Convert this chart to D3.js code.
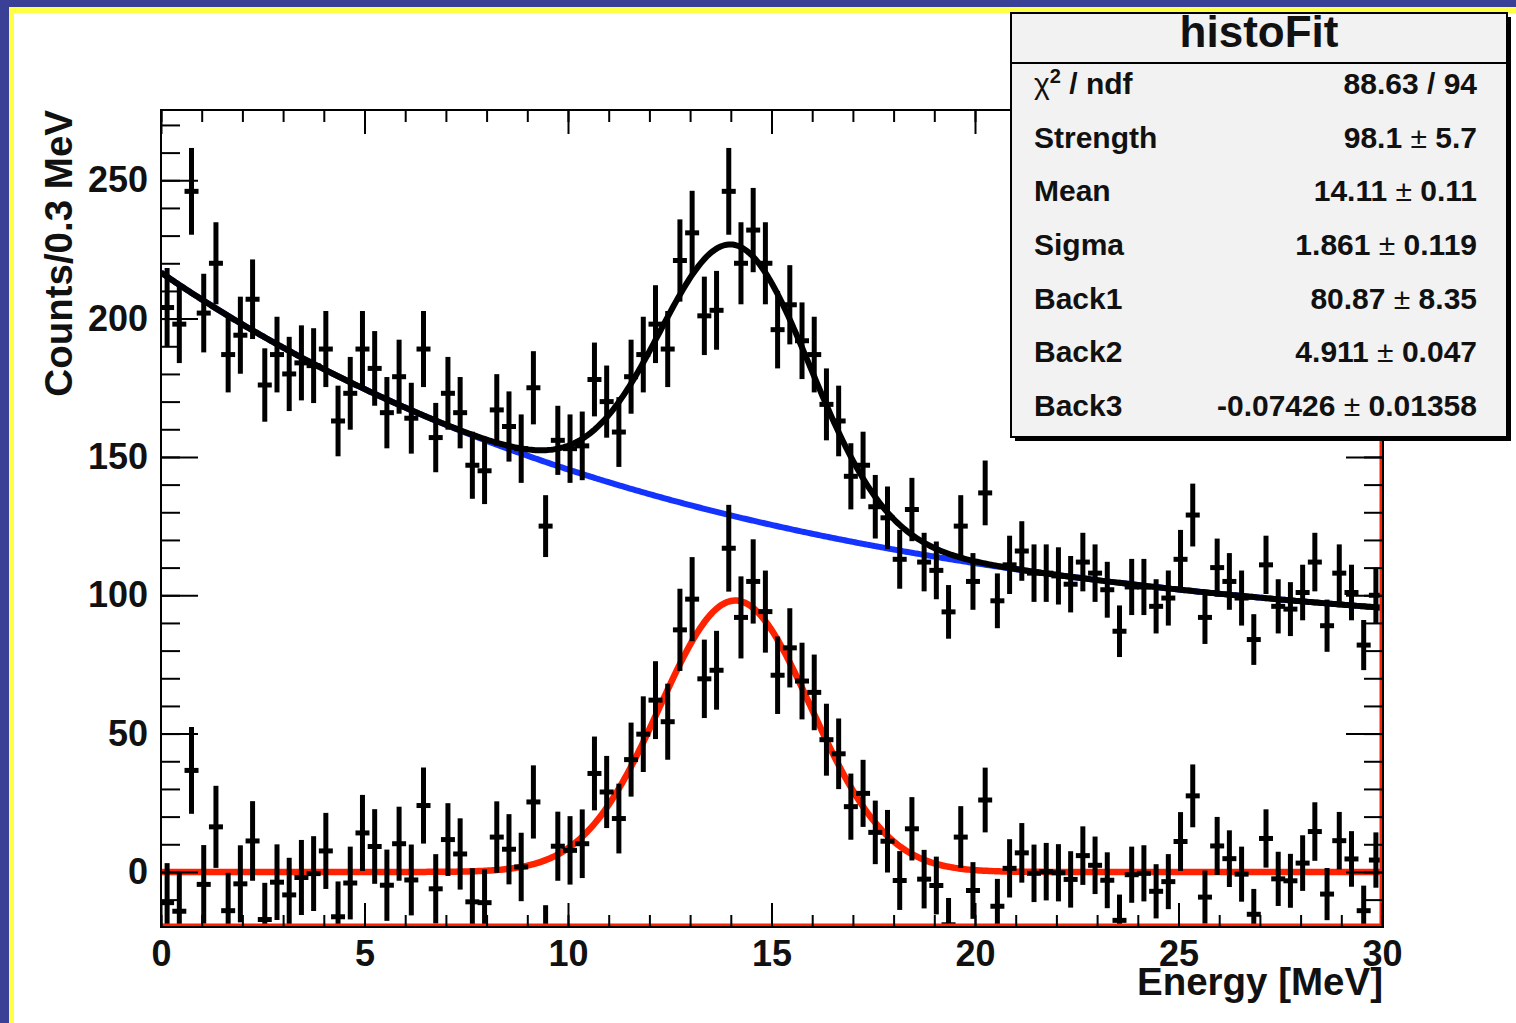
<!DOCTYPE html>
<html>
<head>
<meta charset="utf-8">
<script src="https://cdn.jsdelivr.net/npm/d3@7"></script>
<style>
body { margin: 0; background: #3a4096; overflow: hidden; }
svg { display: block; }
text { font-family: "Liberation Sans", Arial, Helvetica, sans-serif; font-weight: bold; fill: #111; }
</style>
</head>
<body>
<svg id="chart" width="1516" height="1023"></svg>
<script>
// raw spectrum, counts per 0.3 MeV bin (0 - 30 MeV)
var counts = [204,198,246,202,220,187,194,207,176,187,
              180,184,183,189,163,173,189,182,166,179,
              164,189,157,173,166,147,145,167,161,153,
              175,125,156,153,154,178,170,159,179,187,
              198,189,221,231,201,203,246,220,232,220,
              196,205,192,187,169,163,143,147,132,128,
              113,131,112,109,94,125,105,137,98,111,
              116,108,108,107,104,112,108,102,87,103,
              103,96,99,113,129,92,110,105,99,84,
              111,96,95,101,112,89,108,101,82,100];

// same spectrum with the background removed
var signal = [-11.1,-14.2,36.7,-4.5,16.3,-14.0,-4.3,11.2,-17.2,-3.7,
              -8.3,-2.0,-0.6,7.6,-16.2,-4.0,14.1,9.2,-4.8,10.2,
              -2.9,24.0,-6.1,11.7,6.5,-10.8,-11.1,12.6,8.2,1.8,
              25.3,-23.2,9.3,7.8,10.2,35.6,28.9,19.3,40.6,49.8,
              62.1,54.3,87.5,98.6,69.8,72.9,117.0,92.0,105.0,94.1,
              71.1,81.0,69.0,64.9,47.8,42.7,23.6,28.4,14.3,11.1,
              -3.1,15.6,-2.6,-4.9,-19.1,12.6,-6.7,26.0,-12.4,1.3,
              6.9,-0.5,0.1,-0.3,-2.7,5.9,2.4,-3.0,-17.5,-1.0,
              -0.5,-7.0,-3.5,11.0,27.5,-9.1,9.4,4.8,-0.8,-15.3,
              12.1,-2.5,-3.2,3.2,14.6,-8.0,11.3,4.7,-14.0,4.3];

var binWidth = 0.3;

// fit results (stat box)
var parNames  = ["Strength", "Mean", "Sigma", "Back1", "Back2", "Back3"];
var parValues = [98.1, 14.11, 1.861, 80.87, 4.911, -0.07426];
var parText   = ["98.1", "14.11", "1.861", "80.87", "4.911", "-0.07426"];
var parErrors = ["5.7", "0.11", "0.119", "8.35", "0.047", "0.01358"];
var chi2Text  = "88.63 / 94";

var xTicksMajor = [0, 5, 10, 15, 20, 25, 30];
var yTicksMajor = [0, 50, 100, 150, 200, 250];

var W = 1516, H = 1023;
var svg = d3.select("#chart");

// page frame
svg.append("rect").attr("width", W).attr("height", H).attr("fill", "#3a4096");
svg.append("rect").attr("x", 9).attr("y", 7).attr("width", W).attr("height", H).attr("fill", "#ffff44");
svg.append("rect").attr("x", 14).attr("y", 13).attr("width", W).attr("height", H).attr("fill", "#ffffff");

var padL = 161, padR = 1383, padT = 110, padB = 927;

var x = d3.scaleLinear().domain([0, 30]).range([padL, padR - 1]);
var y = d3.scaleLinear().domain([-19.9, 275.4]).range([padB, padT]);

svg.append("defs").append("clipPath").attr("id", "plot")
    .append("rect").attr("x", padL).attr("y", padT)
    .attr("width", padR - padL).attr("height", padB - padT);

function gaus(v){
    return parValues[0] * Math.exp(-0.5 * Math.pow((v - parValues[1]) / parValues[2], 2));
}
function back(v){
    return parValues[3] + Math.exp(parValues[4] + parValues[5] * v);
}

var grid = d3.range(0, 30.0001, 0.05);
var line = d3.line()
    .x(function(d){ return x(d); });

var plot = svg.append("g").attr("clip-path", "url(#plot)");

plot.append("path").datum(grid)
    .attr("d", line.y(function(d){ return y(back(d)); }))
    .attr("fill", "none").attr("stroke", "#1433ff").attr("stroke-width", 6);

plot.append("path").datum(grid)
    .attr("d", line.y(function(d){ return y(back(d) + gaus(d)); }))
    .attr("fill", "none").attr("stroke", "#000").attr("stroke-width", 6);

plot.append("path").datum(grid)
    .attr("d", line.y(function(d){ return y(gaus(d)); }))
    .attr("fill", "none").attr("stroke", "#ff2200").attr("stroke-width", 6.5);

//draw a histogram as points with error bars
function drawPoints(values){
    var g = plot.append("g");
    values.forEach(function(v, i){
        var cx = x(binWidth * (i + 0.5));
        var err = Math.sqrt(counts[i]);
        g.append("line")
            .attr("x1", cx).attr("x2", cx)
            .attr("y1", y(v - err)).attr("y2", y(v + err))
            .attr("stroke", "#000").attr("stroke-width", 5);
        g.append("line")
            .attr("x1", cx - 7).attr("x2", cx + 7)
            .attr("y1", y(v)).attr("y2", y(v))
            .attr("stroke", "#000").attr("stroke-width", 5);
    });
}
drawPoints(counts);
drawPoints(signal);

// red frame lines of the second histogram
svg.append("line").attr("x1", padL).attr("x2", padR - 2)
    .attr("y1", padB - 2).attr("y2", padB - 2)
    .attr("stroke", "#ff2200").attr("stroke-width", 3);
svg.append("line").attr("x1", padR - 2).attr("x2", padR - 2)
    .attr("y1", padT).attr("y2", padB - 2)
    .attr("stroke", "#ff2200").attr("stroke-width", 3);

// frame
svg.append("rect").attr("x", padL).attr("y", padT)
    .attr("width", padR - padL).attr("height", padB - padT)
    .attr("fill", "none").attr("stroke", "#000").attr("stroke-width", 2);

var xMinor = d3.range(0, 31, 1);
var yMinor = d3.range(-10, 271, 10);

function styleAxis(g, size){
    g.select(".domain").remove();
    g.selectAll(".tick line").attr("stroke", "#000").attr("stroke-width", 2);
    g.selectAll("text").style("font-size", size).attr("fill", "#111");
}

// x axis bottom
svg.append("g").attr("transform", "translate(0," + padB + ")")
    .call(d3.axisBottom(x).tickValues(xMinor).tickSize(-12).tickFormat(""))
    .call(styleAxis, "36px");
svg.append("g").attr("transform", "translate(0," + padB + ")")
    .call(d3.axisBottom(x).tickValues(xTicksMajor).tickSize(-24).tickPadding(13).tickFormat(d3.format("d")))
    .call(styleAxis, "36px");
// x axis top
svg.append("g").attr("transform", "translate(0," + padT + ")")
    .call(d3.axisTop(x).tickValues(xMinor).tickSize(-12).tickFormat(""))
    .call(styleAxis, "36px");
svg.append("g").attr("transform", "translate(0," + padT + ")")
    .call(d3.axisTop(x).tickValues(xTicksMajor).tickSize(-24).tickFormat(""))
    .call(styleAxis, "36px");

// y axis left
svg.append("g").attr("transform", "translate(" + padL + ",0)")
    .call(d3.axisLeft(y).tickValues(yMinor).tickSize(-19).tickFormat(""))
    .call(styleAxis, "36px");
svg.append("g").attr("transform", "translate(" + padL + ",0)")
    .call(d3.axisLeft(y).tickValues(yTicksMajor).tickSize(-37).tickPadding(13).tickFormat(d3.format("d")))
    .call(styleAxis, "36px");
// y axis right
svg.append("g").attr("transform", "translate(" + padR + ",0)")
    .call(d3.axisRight(y).tickValues(yMinor).tickSize(-19).tickFormat(""))
    .call(styleAxis, "36px");
svg.append("g").attr("transform", "translate(" + padR + ",0)")
    .call(d3.axisRight(y).tickValues(yTicksMajor).tickSize(-37).tickFormat(""))
    .call(styleAxis, "36px");

// axis titles
svg.append("text")
    .attr("x", padR).attr("y", 995)
    .attr("text-anchor", "end")
    .style("font-size", "38.5px")
    .text("Energy [MeV]");

svg.append("text")
    .attr("transform", "translate(72," + padT + ") rotate(-90)")
    .attr("text-anchor", "end")
    .style("font-size", "38.5px")
    .text("Counts/0.3 MeV");

// stat box
var bx = 1011, by = 13, bw = 496, bh = 424;
var box = svg.append("g");
box.append("rect").attr("x", bx + 4).attr("y", by + 4).attr("width", bw).attr("height", bh).attr("fill", "#000");
box.append("rect").attr("x", bx).attr("y", by).attr("width", bw).attr("height", bh)
    .attr("fill", "#f2f2f2").attr("stroke", "#000").attr("stroke-width", 2);
box.append("line").attr("x1", bx).attr("x2", bx + bw).attr("y1", 63).attr("y2", 63)
    .attr("stroke", "#000").attr("stroke-width", 2);
box.append("text").attr("x", bx + bw / 2).attr("y", 47)
    .attr("text-anchor", "middle").style("font-size", "44px").text("histoFit");

var rowY = d3.scaleLinear().domain([0, 6]).range([94, 416]);
var labelX = 1034, valueX = 1477;

var chi = box.append("text").attr("x", labelX).attr("y", rowY(0)).style("font-size", "30px");
chi.append("tspan").style("font-weight", "normal").text("\u03c7");
chi.append("tspan").attr("dy", -11).style("font-size", "20px").text("2");
chi.append("tspan").attr("dy", 11).text(" / ndf");
box.append("text").attr("x", valueX).attr("y", rowY(0)).attr("text-anchor", "end")
    .style("font-size", "30px").text(chi2Text);

parNames.forEach(function(name, i){
    box.append("text").attr("x", labelX).attr("y", rowY(i + 1))
        .style("font-size", "30px").text(name);
    var t = box.append("text").attr("x", valueX).attr("y", rowY(i + 1))
        .attr("text-anchor", "end").style("font-size", "30px");
    t.append("tspan").text(parText[i]);
    t.append("tspan").style("font-weight", "normal").text(" \u00b1 ");
    t.append("tspan").text(parErrors[i]);
});
</script>
</body>
</html>
